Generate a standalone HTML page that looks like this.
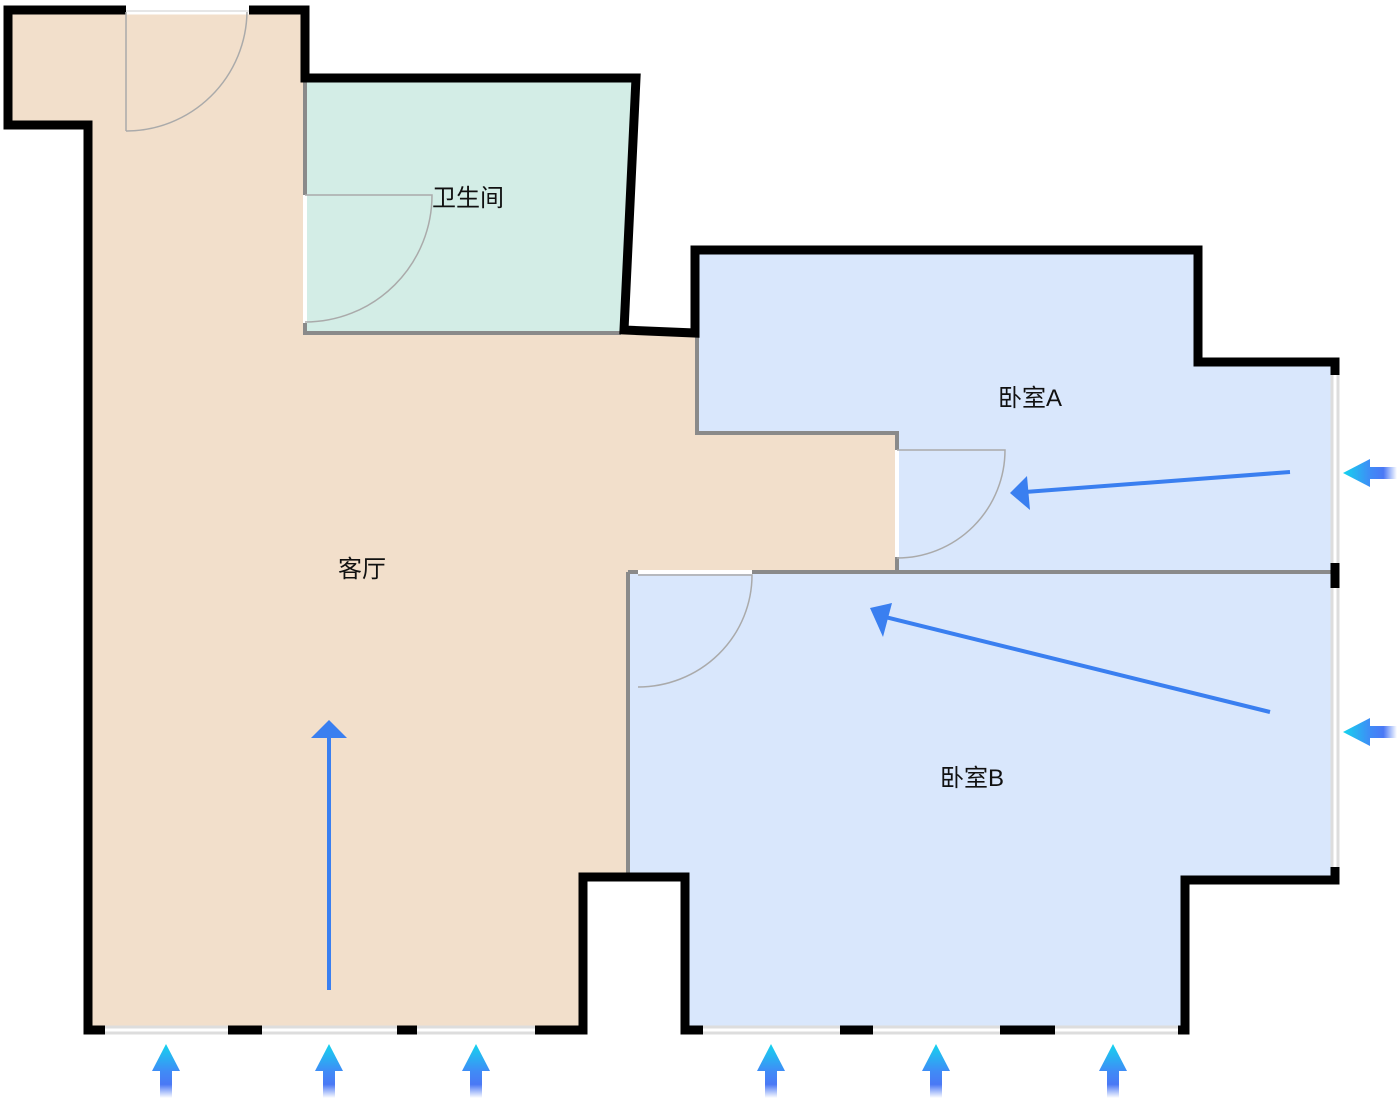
<!DOCTYPE html>
<html><head><meta charset="utf-8"><style>
html,body{margin:0;padding:0;background:#fff;}
svg{display:block;}
text{font-family:"Liberation Sans","Noto Sans CJK SC",sans-serif;font-size:24px;fill:#111;}
</style></head><body>
<svg width="1400" height="1103" viewBox="0 0 1400 1103" xmlns="http://www.w3.org/2000/svg">
<defs>
<linearGradient id="gv" gradientUnits="userSpaceOnUse" x1="0" y1="0" x2="0" y2="54">
<stop offset="0" stop-color="#14d4ee"/><stop offset="0.5" stop-color="#3f8cf6"/><stop offset="0.75" stop-color="#4a78f5"/><stop offset="1" stop-color="#ffffff"/></linearGradient>
<g id="ua"><polygon points="0,0 -14,27 14,27" fill="url(#gv)"/><rect x="-6" y="26" width="12" height="28" fill="url(#gv)"/></g>
</defs>
<polygon points="8,10 305,10 305,78 636,78 624,330 695,333 695,250 1198,250 1198,362 1335,362 1335,880 1185,880 1185,1030 685,1030 685,877 583,877 583,1030 88,1030 88,125 8,125" fill="#f2dfcb"/>
<polygon points="305,82 632,82 621,333 305,333" fill="#d3ede6"/>
<polygon points="697,254 1198,254 1198,365 1333,365 1333,570 897,570 897,433 697,433" fill="#d9e7fc"/>
<polygon points="628,572 1333,572 1333,877 1185,877 1185,1028 687,1028 687,875 628,875" fill="#d9e7fc"/>
<g stroke="#8a8a8a" stroke-width="4" fill="none">
<polyline points="305,82 305,333 621,333"/>
<polyline points="697,335 697,433 897,433 897,570"/>
<line x1="628" y1="572" x2="1333" y2="572"/>
<line x1="628" y1="572" x2="628" y2="875"/>
</g>
<polygon points="8,10 305,10 305,78 636,78 624,330 695,333 695,250 1198,250 1198,362 1335,362 1335,880 1185,880 1185,1030 685,1030 685,877 583,877 583,1030 88,1030 88,125 8,125" fill="none" stroke="#000" stroke-width="9" stroke-linejoin="miter"/>
<g stroke="#fff" stroke-width="9">
<line x1="126" y1="10" x2="249" y2="10"/>
</g>
<g stroke="#fff" stroke-width="4">
<line x1="305" y1="195" x2="305" y2="323"/>
<line x1="897" y1="450" x2="897" y2="557"/>
<line x1="638" y1="572" x2="752" y2="572"/>
</g>
<line x1="126" y1="11" x2="249" y2="11" stroke="#ccc" stroke-width="1"/>
<g stroke="#ddd" stroke-width="9">
<line x1="105" y1="1030" x2="228" y2="1030"/><line x1="262" y1="1030" x2="397" y2="1030"/><line x1="417" y1="1030" x2="535" y2="1030"/>
<line x1="703" y1="1030" x2="840" y2="1030"/><line x1="873" y1="1030" x2="1000" y2="1030"/><line x1="1055" y1="1030" x2="1178" y2="1030"/>
<line x1="1335" y1="375" x2="1335" y2="563"/><line x1="1335" y1="588" x2="1335" y2="867"/>
</g>
<g stroke="#fff" stroke-width="3">
<line x1="105" y1="1030" x2="228" y2="1030"/><line x1="262" y1="1030" x2="397" y2="1030"/><line x1="417" y1="1030" x2="535" y2="1030"/>
<line x1="703" y1="1030" x2="840" y2="1030"/><line x1="873" y1="1030" x2="1000" y2="1030"/><line x1="1055" y1="1030" x2="1178" y2="1030"/>
<line x1="1335" y1="375" x2="1335" y2="563"/><line x1="1335" y1="588" x2="1335" y2="867"/>
</g>
<g stroke="#aaa" stroke-width="1.5" fill="none">
<path d="M126,131 L126,12 M247,12 A121,121 0 0 1 126,131"/>
<path d="M305,195 L432,195 A127,127 0 0 1 305,322"/>
<path d="M897,450 L1005,450 A108,108 0 0 1 897,558"/>
<path d="M638,575 L752,575 A114,112 0 0 1 638,687"/>
</g>
<g stroke="#3a7ff0" stroke-width="4" fill="none">
<line x1="329" y1="990" x2="329" y2="735"/>
<line x1="1290" y1="472" x2="1025" y2="492"/>
<line x1="1270" y1="712" x2="885" y2="617"/>
</g>
<g fill="#3a7ff0">
<polygon points="329,720 311,738 347,738"/>
<polygon points="1010,493 1027,476 1030,510"/>
<polygon points="870,608 892,603 883,637"/>
</g>
<use href="#ua" transform="translate(166,1044)"/><use href="#ua" transform="translate(329,1044)"/><use href="#ua" transform="translate(476,1044)"/>
<use href="#ua" transform="translate(771,1044)"/><use href="#ua" transform="translate(936,1044)"/><use href="#ua" transform="translate(1113,1044)"/>
<use href="#ua" transform="translate(1343,473) rotate(-90)"/>
<use href="#ua" transform="translate(1343,732) rotate(-90)"/>
<text x="468" y="206" text-anchor="middle">卫生间</text>
<text x="1030" y="406" text-anchor="middle">卧室A</text>
<text x="362" y="577" text-anchor="middle">客厅</text>
<text x="972" y="786" text-anchor="middle">卧室B</text>
</svg>
</body></html>
